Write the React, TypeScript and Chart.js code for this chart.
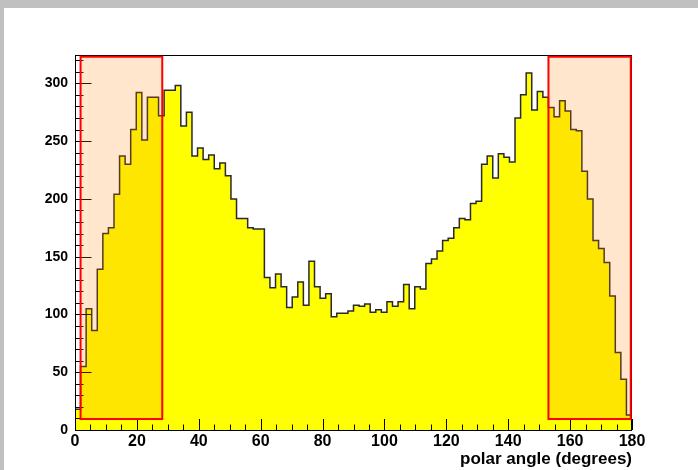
import React, { useEffect, useRef } from 'react';
import { Chart, registerables } from 'chart.js';

Chart.register(...registerables);

// Histogram definition: 100 bins of 1.8 degrees from 0 to 180
const binLow = 0;
const binWidth = 1.8;
const counts = [
  18, 55, 105, 86, 139, 170, 175, 204, 237, 230,
  260, 292, 251, 288, 288, 272, 294, 294, 298, 263,
  275, 237, 244, 234, 238, 226, 231, 220, 200, 183,
  183, 175, 174, 174, 132, 123, 135, 124, 106, 115,
  128, 108, 146, 124, 114, 118, 98, 101, 101, 103,
  108, 107, 109, 102, 104, 102, 111, 107, 111, 126,
  105, 124, 122, 144, 148, 155, 164, 166, 175, 183,
  182, 196, 198, 230, 237, 218, 239, 236, 232, 270,
  290, 309, 277, 293, 288, 279, 271, 285, 276, 260,
  259, 224, 200, 164, 157, 145, 116, 67, 44, 13,
];

const xRange = [0, 180];
const yRange = [0, 324.5];
const xMajorStep = 20;
const xMinorStep = 5;
const yMajorStep = 50;
const yMinorStep = 10;
const xTitle = 'polar angle (degrees)';

// Highlighted regions (angle range, count range)
const regionAngles = [
  [1.8, 28.2],
  [153.0, 179.6],
];
const regionCounts = [9.5, 323];

const FONT = "'Liberation Sans', Arial, Helvetica, sans-serif";

const decorPlugin = {
  id: 'rootDecor',
  afterDatasetsDraw(chart: any) {
    const { ctx, chartArea: a, scales } = chart;
    const x = scales.x;
    const y = scales.y;
    ctx.save();
    // ticks drawn inside frame (ROOT style)
    ctx.strokeStyle = '#000';
    ctx.lineWidth = 1;
    ctx.beginPath();
    for (let v = xRange[0]; v <= xRange[1] + 1e-6; v += xMinorStep) {
      const px = Math.round(x.getPixelForValue(v)) + 0.5;
      const len = Math.abs(v % xMajorStep) < 1e-6 ? 11 : 5.5;
      ctx.moveTo(px, a.bottom);
      ctx.lineTo(px, a.bottom - len);
    }
    for (let v = yRange[0]; v <= yRange[1]; v += yMinorStep) {
      const py = Math.round(y.getPixelForValue(v)) + 0.5;
      const len = Math.abs(v % yMajorStep) < 1e-6 ? 16.5 : 8.5;
      ctx.moveTo(a.left, py);
      ctx.lineTo(a.left + len, py);
    }
    ctx.stroke();
    // frame
    ctx.strokeRect(a.left + 0.5, a.top + 0.5, a.right - a.left - 1, a.bottom - a.top);
    // highlighted regions
    for (const r of regionAngles) {
      const x0 = x.getPixelForValue(r[0]);
      const x1 = x.getPixelForValue(r[1]);
      const y0 = y.getPixelForValue(regionCounts[1]);
      const y1 = y.getPixelForValue(regionCounts[0]);
      ctx.fillStyle = 'rgba(255,128,0,0.2)';
      ctx.fillRect(x0, y0, x1 - x0, y1 - y0);
      ctx.strokeStyle = '#ff0000';
      ctx.lineWidth = 2;
      ctx.strokeRect(x0, y0, x1 - x0, y1 - y0);
    }
    ctx.restore();
  },
};

export default function App() {
  const canvasRef = useRef<HTMLCanvasElement | null>(null);

  useEffect(() => {
    const canvas = canvasRef.current;
    if (!canvas) return;
    const points = counts.map((c, i) => ({ x: binLow + i * binWidth, y: c }));
    points.push({ x: binLow + counts.length * binWidth, y: counts[counts.length - 1] });

    const chart = new Chart(canvas, {
      type: 'line',
      data: {
        datasets: [
          {
            data: points,
            stepped: 'before',
            borderColor: '#2a2a2a',
            borderWidth: 1.5,
            backgroundColor: '#ffff00',
            fill: 'origin',
            pointRadius: 0,
            tension: 0,
          },
        ],
      },
      options: {
        animation: false,
        responsive: false,
        events: [],
        layout: { padding: { left: 0, top: 55, right: 66, bottom: 0 } },
        plugins: {
          legend: { display: false },
          tooltip: { enabled: false },
          title: { display: false },
        },
        scales: {
          x: {
            type: 'linear',
            min: xRange[0],
            max: xRange[1],
            grid: { display: false, drawTicks: false },
            border: { display: false },
            ticks: {
              stepSize: xMajorStep,
              autoSkip: false,
              maxRotation: 0,
              includeBounds: false,
              padding: 2,
              color: '#000',
              font: { family: FONT, size: 16, weight: 'bold' },
            },
            title: {
              display: true,
              text: xTitle,
              align: 'end',
              color: '#000',
              padding: { top: 0, bottom: 0 },
              font: { family: FONT, size: 17, weight: 'bold' },
            },
            afterFit: (scale: any) => {
              scale.height = 40;
            },
          },
          y: {
            type: 'linear',
            min: yRange[0],
            max: yRange[1],
            grid: { display: false, drawTicks: false },
            border: { display: false },
            ticks: {
              stepSize: yMajorStep,
              includeBounds: false,
              padding: 7,
              color: '#000',
              font: { family: FONT, size: 14, weight: 'bold' },
            },
            afterFit: (scale: any) => {
              scale.width = 75;
            },
          },
        },
      },
      plugins: [decorPlugin],
    });
    return () => chart.destroy();
  }, []);

  return (
    <div
      style={{
        position: 'absolute',
        left: 0,
        top: 0,
        width: 698,
        height: 470,
        boxSizing: 'border-box',
        background: '#ffffff',
        borderTop: '8px solid #c0c0c0',
        borderLeft: '4px solid #c0c0c0',
      }}
    >
      <canvas
        ref={canvasRef}
        width={698}
        height={470}
        style={{ position: 'absolute', left: -4, top: -8, width: 698, height: 470 }}
      />
    </div>
  );
}
